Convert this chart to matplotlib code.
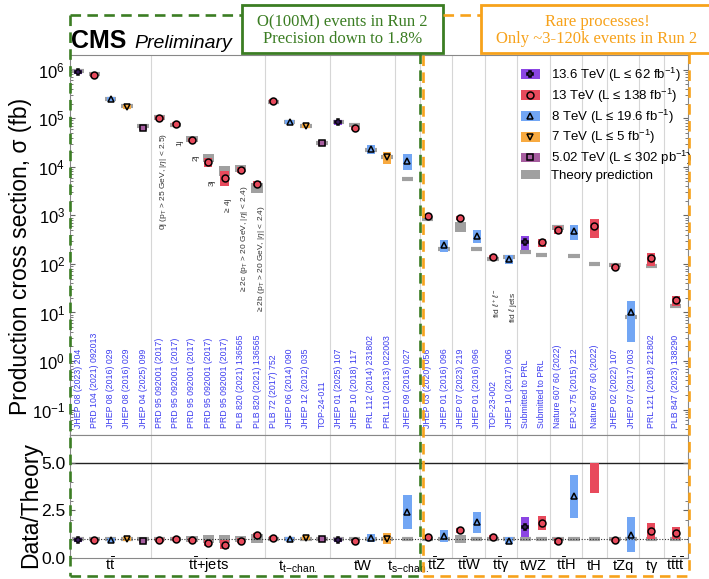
import matplotlib
matplotlib.use("Agg")
import matplotlib.pyplot as plt
import matplotlib.transforms as mtransforms
from matplotlib.lines import Line2D
from matplotlib.patches import Patch, Rectangle
import numpy as np

plt.rcParams['font.family'] = ['Liberation Sans', 'DejaVu Sans']
plt.rcParams['mathtext.fontset'] = 'custom'
plt.rcParams['mathtext.rm'] = 'Liberation Sans'
plt.rcParams['mathtext.it'] = 'Liberation Sans:italic'
plt.rcParams['mathtext.bf'] = 'Liberation Sans:bold'

# ---- data ----
group_labels = [r"$\mathrm{t\bar{t}}$", r"$\mathrm{t\bar{t}}$+jets", r"$\mathrm{t_{t\!-\!chan.}}$", "tW",
                r"$\mathrm{t_{s\!-\!chan.}}$", r"$\mathrm{t\bar{t}Z}$", r"$\mathrm{t\bar{t}W}$",
                r"$\mathrm{t\bar{t}\gamma}$", "tWZ", r"$\mathrm{t\bar{t}H}$", "tH", "tZq", r"t$\mathrm{\gamma}$",
                r"$\mathrm{t\bar{t}t\bar{t}}$"]
group_sizes = [5, 7, 4, 4, 1, 2, 2, 2, 2, 2, 1, 2, 1, 1]

energy = ["13.6", "13", "8", "7", "5.02",
          "13", "13", "13", "13", "13", "13", "13",
          "13", "8", "7", "5.02",
          "13.6", "13", "8", "7",
          "8",
          "13", "8",
          "13", "8",
          "13", "8",
          "13.6", "13",
          "13", "8",
          "13",
          "13", "8",
          "13",
          "13"]

sigma = [8.81e5, 7.91e5, 2.45e5, 1.74e5, 6.3e4,
         1.0e5, 7.5e4, 3.6e4, 1.25e4, 6.0e3, 8.6e3, 4.5e3,
         2.3e5, 8.5e4, 7.0e4, 3.1e4,
         8.2e4, 6.3e4, 2.35e4, 1.6e4,
         1.34e4,
         9.5e2, 2.42e2,
         8.68e2, 3.82e2,
         1.37e2, 1.27e2,
         2.8e2, 2.76e2,
         5.1e2, 4.7e2,
         6.0e2,
         8.8e1, 10.0,
         1.3e2,
         17.7]
sigma_err = [2.3e4, 2.5e4, 9e3, 6e3, 4.1e3,
             8e3, 6e3, 3.5e3, 2.5e3, 2.0e3, 1.2e3, 5e2,
             1.2e4, 6e3, 6e3, 4e3,
             8e3, 6e3, 5e3, 4.5e3,
             5e3,
             8e1, 6.5e1,
             8e1, 1.1e2,
             8, 2.7e1,
             9e1, 5.5e1,
             9e1, 1.65e2,
             2.6e2,
             1e1, 7.5,
             3.8e1,
             4.2]
theory = [9.24e5, 8.32e5, 2.53e5, 1.77e5, 6.9e4,
          1.05e5, 7.35e4, 3.7e4, 1.55e4, 8.5e3, 9.5e3, 3.8e3,
          2.2e5, 8.5e4, 6.8e4, 3.1e4,
          8.45e4, 7.15e4, 2.24e4, 1.56e4,
          5.55e3,
          8.6e2, 2.06e2,
          5.92e2, 2.03e2,
          1.25e2, 1.4e2,
          1.72e2, 1.5e2,
          5.67e2, 1.45e2,
          1.0e2,
          9.4e1, 8.2,
          9.1e1,
          13.4]
theory_err = [5.0e4, 4.6e4, 1.2e4, 9e3, 3.5e3,
              1.2e4, 8e3, 5e3, 3e3, 2.0e3, 1.6e3, 9e2,
              1e4, 3e3, 2.5e3, 1.2e3,
              4e3, 3e3, 1.5e3, 1.1e3,
              2.5e2,
              9e1, 2.1e1,
              1.35e2, 2e1,
              1e1, 1e1,
              8, 8,
              5.7e1, 1.5e1,
              5,
              3, 0.6,
              3,
              1.0]
refs = ["JHEP 08 (2023) 204", "PRD 104 (2021) 092013", "JHEP 08 (2016) 029", "JHEP 08 (2016) 029",
        "JHEP 04 (2025) 099",
        "PRD 95 092001 (2017)", "PRD 95 092001 (2017)", "PRD 95 092001 (2017)", "PRD 95 092001 (2017)",
        "PRD 95 092001 (2017)", "PLB 820 (2021) 136565", "PLB 820 (2021) 136565",
        "PLB 72 (2017) 752", "JHEP 06 (2014) 090", "JHEP 12 (2012) 035", "TOP-24-011",
        "JHEP 01 (2025) 107", "JHEP 10 (2018) 117", "PRL 112 (2014) 231802", "PRL 110 (2013) 022003",
        "JHEP 09 (2016) 027",
        "JHEP 03 (2020) 056", "JHEP 01 (2016) 096",
        "JHEP 07 (2023) 219", "JHEP 01 (2016) 096",
        "TOP-23-002", "JHEP 10 (2017) 006",
        "Submitted to PRL", "Submitted to PRL",
        "Nature 607 60 (2022)", "EPJC 75 (2015) 212",
        "Nature 607 60 (2022)",
        "JHEP 02 (2022) 107", "JHEP 07 (2017) 003",
        "PRL 121 (2018) 221802",
        "PLB 847 (2023) 138290"]
notes = {5: r"0j (p$_\mathrm{T}$ > 25 GeV, |$\eta$| < 2.5)", 6: "1j", 7: "2j", 8: "3j", 9: "≥ 4j",
         10: r"≥ 2c (p$_\mathrm{T}$ > 20 GeV, |$\eta$| < 2.4)", 11: r"≥ 2b (p$_\mathrm{T}$ > 20 GeV, |$\eta$| < 2.4)",
         25: r"fid $\ell^+\ell^-$", 26: r"fid $\ell$ jets"}

legend_labels = {"13.6": r"13.6 TeV (L ≤ 62 fb$^{-1}$)", "13": r"13 TeV (L ≤ 138 fb$^{-1}$)",
                 "8": r"8 TeV (L ≤ 19.6 fb$^{-1}$)", "7": r"7 TeV (L ≤ 5 fb$^{-1}$)",
                 "5.02": r"5.02 TeV (L ≤ 302 pb$^{-1}$)"}

colors = {"13.6": "#8b45e3", "13": "#e84a5c", "8": "#72a6f4", "7": "#f8aa40", "5.02": "#a65d9f"}
markers = {"13.6": "P", "13": "o", "8": "^", "7": "v", "5.02": "s"}
gray = "#a0a0a0"
green = "#3b7d23"
orange = "#f7a21b"
blue_txt = "#3c3cf0"

# ---- positions ----
sizes = np.array(group_sizes)
widths = np.maximum(sizes, 1.5)
edges = np.concatenate([[0], np.cumsum(widths)])
xpos = []
for g, n in enumerate(sizes):
    start = edges[g] + (widths[g] - n) / 2
    xpos += [start + i + 0.5 for i in range(n)]
xpos = np.array(xpos)

W, H = 709, 579
fig = plt.figure(figsize=(W / 100, H / 100), dpi=100)


def fx(px):
    return px / W


def fy(py):
    return 1 - py / H


ax1 = fig.add_axes([fx(70), fy(435), 618 / W, 380 / H])
ax2 = fig.add_axes([fx(70), fy(558), 618 / W, 123 / H])

for ax in (ax1, ax2):
    ax.set_xlim(0, edges[-1])
    ax.set_xticks([])
    for e in edges[1:-1]:
        ax.axvline(e, color="#d6d6d6", lw=0.8, zorder=0)
    for s in ax.spines.values():
        s.set_color("#888888")
    ax.tick_params(which="both", direction="in", right=True, colors="#666666", labelcolor="black")

# top panel
ax1.set_yscale("log")
ax1.set_ylim(0.03, 2e6)
ax1.set_yticks([1e-1, 1, 1e1, 1e2, 1e3, 1e4, 1e5, 1e6])
ax1.tick_params(axis="y", labelsize=12)
ax1.set_ylabel("Production cross section, σ (fb)", fontsize=16.5)
ax1.yaxis.set_label_coords(-0.062, 0.47)

trans1 = mtransforms.blended_transform_factory(ax1.transData, ax1.transAxes)
for i, x in enumerate(xpos):
    e = energy[i]
    c = colors[e]
    th, dth = theory[i], theory_err[i]
    s, ds = sigma[i], sigma_err[i]
    ax1.bar(x, 2 * dth, bottom=th - dth, width=0.7, color=gray, zorder=2)
    ax1.hlines(th, x - 0.35, x + 0.35, color=gray, lw=3, zorder=2)
    ax1.bar(x, 2 * ds, bottom=s - ds, width=0.5, color=c, zorder=3)
    ax1.hlines(s, x - 0.25, x + 0.25, color=c, lw=3, zorder=3)
    ax1.plot(x, s, ls="", marker=markers[e], mfc=c, mec="k", ms=5, mew=1.1, zorder=4)
    ax1.text(x, 0.018, refs[i], transform=trans1, rotation=90, ha="center", va="bottom",
             fontsize=6.3, color=blue_txt)
    if i in notes:
        low = min(th - dth, s - ds)
        dy = -20 if i >= 25 else -9
        ax1.annotate(notes[i], xy=(x, low), xytext=(3, dy), textcoords="offset points",
                     rotation=90, ha="center", va="top", fontsize=6, color="#333333")

# legend
handles = []
labels = []
for e in ["13.6", "13", "8", "7", "5.02"]:
    handles.append((Patch(facecolor=colors[e]),
                    Line2D([], [], ls="", marker=markers[e], mfc=colors[e], mec="k", ms=5, mew=1.1)))
    labels.append(legend_labels[e])
handles.append(Patch(facecolor=gray))
labels.append("Theory prediction")
ax1.legend(handles, labels, loc="upper left", bbox_to_anchor=(0.73, 0.972), frameon=False,
           fontsize=9.5, handlelength=1.4, handleheight=0.75, handletextpad=0.85, labelspacing=0.2,
           borderpad=0, borderaxespad=0)

# ratio panel
ax2.set_ylim(0, 6.47)
ax2.set_yticks([0, 2.5, 5.0])
ax2.set_yticklabels(["0.0", "2.5", "5.0"])
ax2.set_yticks([1, 2, 3, 4], minor=True)
ax2.tick_params(axis="y", labelsize=12.5)
ax2.set_ylabel("Data/Theory", fontsize=16.5)
ax2.yaxis.set_label_coords(-0.045, 0.43)
ax2.axhline(5.0, color="#222222", lw=1.0, zorder=1)
ax2.axhline(1.0, color="#333333", lw=0.8, ls=(0, (1, 1.5)), zorder=3.5)

for i, x in enumerate(xpos):
    e = energy[i]
    c = colors[e]
    th, dth = theory[i], theory_err[i]
    r = sigma[i] / th
    dr = sigma_err[i] / th
    rt = dth / th
    ax2.bar(x, 2 * rt, bottom=1 - rt, width=0.7, color=gray, zorder=2)
    ax2.hlines(1, x - 0.35, x + 0.35, color=gray, lw=3, zorder=2)
    lo, hi = r - dr, min(r + dr, 5.0)
    ax2.bar(x, hi - lo, bottom=lo, width=0.5, color=c, zorder=3)
    if r < 5.0:
        ax2.hlines(r, x - 0.25, x + 0.25, color=c, lw=3, zorder=3)
        ax2.plot(x, r, ls="", marker=markers[e], mfc=c, mec="k", ms=5, mew=1.1, zorder=4)

trans2 = mtransforms.blended_transform_factory(ax2.transData, ax2.transAxes)
for g, lab in enumerate(group_labels):
    ax2.text((edges[g] + edges[g + 1]) / 2, -0.1, lab, transform=trans2, ha="center", va="baseline",
             fontsize=10.5)

# header
fig.text(fx(71), fy(48), "CMS", fontsize=18, fontweight="bold", va="baseline", ha="left")
fig.text(fx(134), fy(48), "Preliminary", fontsize=14, style="italic", va="baseline", ha="left")

dash = (0, (4, 2.4))
seg_green = [((70, 15), (242, 15)), ((70, 15), (70, 576)), ((70, 576), (419.5, 576)), ((419.5, 53), (419.5, 576))]
seg_orange = [((443, 15), (481, 15)), ((422.5, 55), (422.5, 576)), ((422.5, 576), (689, 576)), ((689, 53), (689, 576))]
for segs, col in ((seg_green, green), (seg_orange, orange)):
    for (x0, y0), (x1, y1) in segs:
        fig.add_artist(Line2D([fx(x0), fx(x1)], [fy(y0), fy(y1)], transform=fig.transFigure,
                              color=col, lw=1.9, ls=dash))

fig.add_artist(Rectangle((fx(242), fy(53)), (443 - 242) / W, 48 / H, transform=fig.transFigure,
                         facecolor="white", edgecolor=green, lw=2))
fig.add_artist(Rectangle((fx(481), fy(53)), (720 - 481) / W, 48 / H, transform=fig.transFigure,
                         facecolor="white", edgecolor=orange, lw=2))
serif = ["Liberation Serif", "DejaVu Serif"]
fig.text(fx(342.5), fy(22), "O(100M) events in Run 2", family=serif, fontsize=12, color=green,
         ha="center", va="center")
fig.text(fx(342.5), fy(39), "Precision down to 1.8%", family=serif, fontsize=12, color=green,
         ha="center", va="center")
fig.text(fx(597), fy(22), "Rare processes!", family=serif, fontsize=12, color=orange,
         ha="center", va="center")
fig.text(fx(597), fy(39), "Only ~3-120k events in Run 2", family=serif, fontsize=12, color=orange,
         ha="center", va="center")

fig.savefig("out.png", dpi=100)
